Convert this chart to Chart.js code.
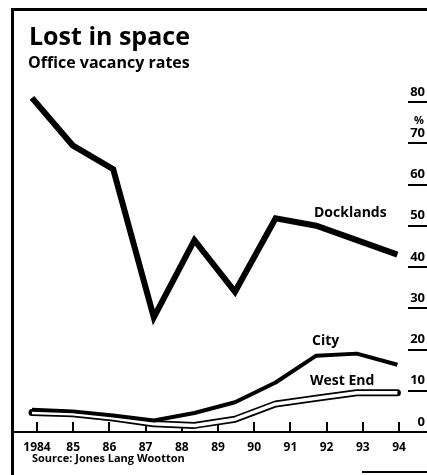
<!DOCTYPE html>
<html>
<head>
<meta charset="utf-8">
<script src="https://cdn.jsdelivr.net/npm/chart.js@4"></script>
<style>
  html, body { margin: 0; padding: 0; background: #fff; }
  #wrap { position: relative; width: 427px; height: 475px; }
</style>
</head>
<body>
<div id="wrap"><canvas id="chart" width="427" height="475"></canvas></div>
<script>
// Office vacancy rates, per cent, one reading per year
const years = [1984, 1985, 1986, 1987, 1988, 1989, 1990, 1991, 1992, 1993];
const docklands = [81, 69.5, 63.7, 27.8, 46.5, 34, 51.8, 50, 46.5, 43];
const city = [5.4, 5.0, 4.0, 2.8, 4.6, 7.2, 12, 18.5, 19, 16.3];
const westEnd = [4.7, 4.4, 3.4, 2.0, 1.6, 3.1, 6.8, 8.2, 9.5, 9.5];

// axis ticks
const tickYears = [1984, 1985, 1986, 1987, 1988, 1989, 1990, 1991, 1992, 1993, 1994];
const yearLabels = ['1984', '85', '86', '87', '88', '89', '90', '91', '92', '93', '94'];
const yTicks = [0, 10, 20, 30, 40, 50, 60, 70, 80];

const FONT = "'Open Sans', 'DejaVu Sans', sans-serif";

function pts(values) {
    return values.map((v, i) => ({ x: years[i], y: v }));
}

// frame, headings and series names
const extras = {
    id: 'extras',
    afterDraw(chart) {
        const ctx = chart.ctx;
        ctx.save();
        ctx.fillStyle = '#000';
        ctx.fillRect(12, 8, 415, 3);
        ctx.fillRect(11, 8, 3, 467);
        ctx.fillRect(362, 471, 65, 2);

        ctx.textBaseline = 'alphabetic';
        ctx.textAlign = 'left';
        ctx.font = 'bold 25px ' + FONT;
        ctx.fillText('Lost in space', 29, 45);
        ctx.font = 'bold 16px ' + FONT;
        ctx.fillText('Office vacancy rates', 28, 68);
        ctx.font = 'bold 11px ' + FONT;
        ctx.fillText('Source: Jones Lang Wootton', 32, 462);

        ctx.font = 'bold 14px ' + FONT;
        ctx.fillText('Docklands', 314, 217);
        ctx.fillText('City', 312, 345);
        ctx.fillText('West End', 310, 385);

        ctx.textAlign = 'right';
        ctx.font = 'bold 11px ' + FONT;
        ctx.fillText('%', 424, 124);
        ctx.restore();
    }
};

new Chart(document.getElementById('chart'), {
    type: 'line',
    data: {
        datasets: [{
            label: 'Docklands',
            data: pts(docklands),
            borderColor: '#000',
            borderWidth: 6,
            borderJoinStyle: 'miter',
            borderCapStyle: 'butt',
            order: 0
        }, {
            label: 'City',
            data: pts(city),
            borderColor: '#000',
            borderWidth: 4,
            borderJoinStyle: 'round',
            order: 1
        }, {
            label: 'West End',
            data: pts(westEnd),
            borderColor: '#fff',
            borderWidth: 3.5,
            borderJoinStyle: 'round',
            order: 2
        }, {
            label: 'West End outline',
            data: pts(westEnd),
            borderColor: '#000',
            borderWidth: 7,
            borderCapStyle: 'round',
            borderJoinStyle: 'round',
            order: 3
        }]
    },
    options: {
        responsive: false,
        animation: false,
        devicePixelRatio: 1,
        clip: false,
        elements: {
            point: { radius: 0 },
            line: { tension: 0 }
        },
        datasets: { line: { xAxisID: 'xd', clip: false } },
        layout: { padding: { left: 13, right: 0, top: 102, bottom: 2.6 } },
        plugins: {
            legend: { display: false },
            tooltip: { enabled: false }
        },
        scales: {
            xd: {
                type: 'linear',
                display: false,
                min: 1983.532,
                max: 1993.729
            },
            x: {
                type: 'linear',
                position: 'bottom',
                min: 1983.337,
                max: 1994.773,
                afterBuildTicks: s => { s.ticks = tickYears.map(v => ({ value: v })); },
                border: { display: true, width: 2, color: '#000' },
                grid: { drawOnChartArea: false, tickLength: -10, lineWidth: 2, color: '#000' },
                ticks: {
                    padding: 18,
                    autoSkip: false,
                    maxRotation: 0,
                    color: '#000',
                    font: { family: FONT, weight: 'bold', size: 12 },
                    callback: (v, i) => yearLabels[i]
                }
            },
            y: {
                position: 'right',
                min: 0,
                max: 80,
                afterFit: s => { s.width = 0; },
                afterBuildTicks: s => { s.ticks = yTicks.map(v => ({ value: v })); },
                border: { display: false },
                grid: { drawOnChartArea: false, tickLength: -19, lineWidth: 2, color: '#000' },
                ticks: {
                    mirror: true,
                    padding: -2,
                    labelOffset: -10,
                    color: '#000',
                    font: { family: FONT, weight: 'bold', size: 13 }
                }
            }
        }
    },
    plugins: [extras]
});
</script>
</body>
</html>
